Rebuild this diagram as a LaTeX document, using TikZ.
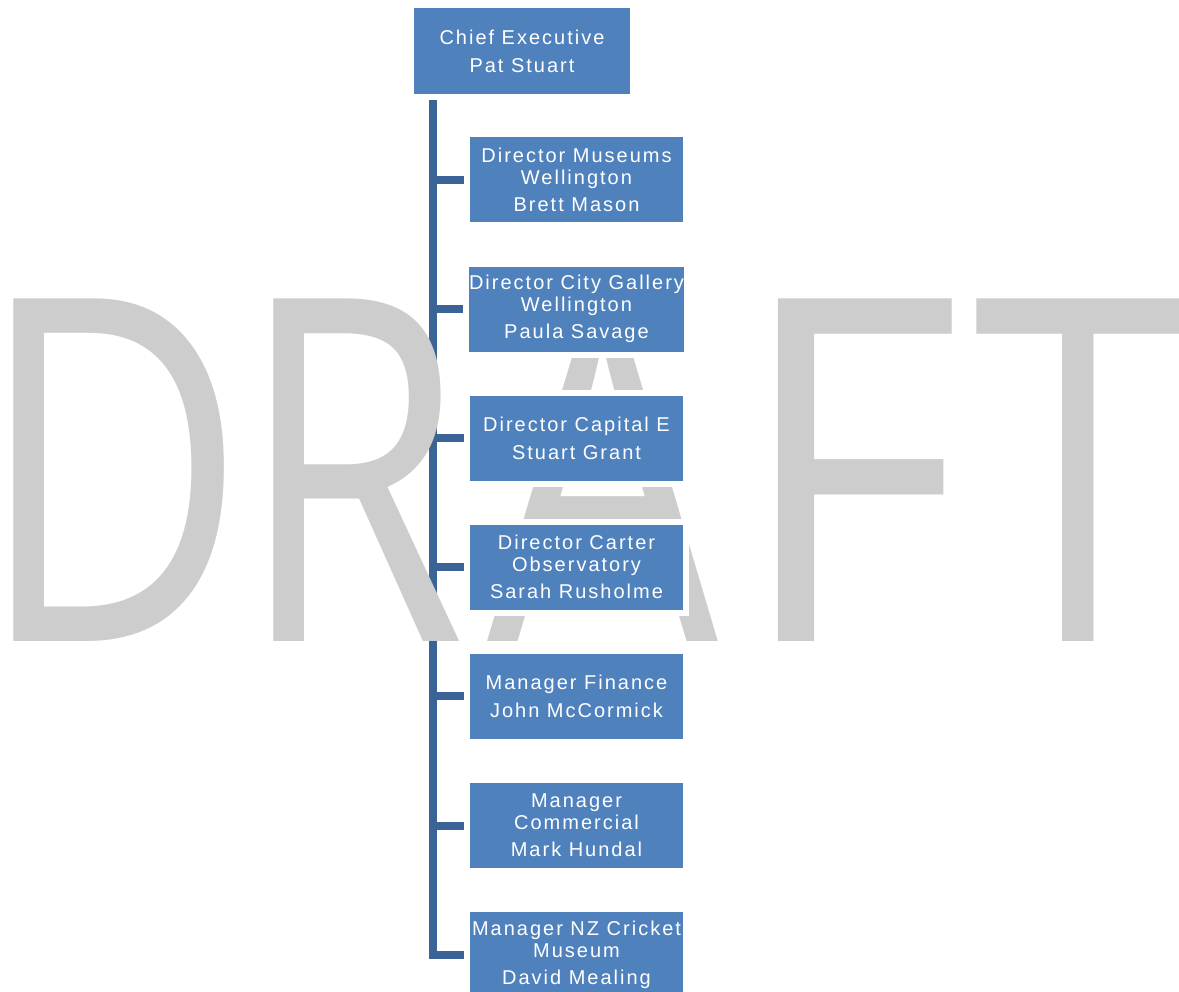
\documentclass[tikz,border=0pt]{standalone}
\usepackage{fontspec}
\usepackage{xcolor}
\usepackage{tikz}
\usetikzlibrary{positioning,backgrounds}
\newfontfamily\boxfont{Liberation Sans}[LetterSpace=10]
\newfontfamily\wmfont{Open Sans}
\definecolor{boxblue}{RGB}{79,129,189}
\definecolor{trunkblue}{RGB}{59,100,150}
\definecolor{wmgray}{RGB}{205,205,205}
\tikzset{
  box/.style ={fill=boxblue, text=white, align=center, inner sep=0pt,
               font=\boxfont\fontsize{20}{22}\selectfont,
               minimum width=213pt, minimum height=85pt,
               preaction={draw=white, line width=12pt}},
  topbox/.style={box, minimum width=216pt, minimum height=86pt},
  wm/.style  ={text=wmgray, inner sep=0pt, anchor=base,
               font=\wmfont\fontsize{480}{480}\selectfont},
  link/.style={draw=trunkblue, line width=8pt},
}
\begin{document}
\begin{tikzpicture}[x=1pt, y=-1pt, node distance=43.7pt]
  \useasboundingbox (0,0) rectangle (1179,992);
  % watermark
  \node[wm, xscale=0.77] (wmD) at (112,641) {D};
  \node[wm, xscale=0.77] (wmR) at (352,641) {R};
  \node[wm, xscale=0.76] (wmA) at (603,641) {A};
  \node[wm, xscale=0.91] (wmF) at (848,641) {F};
  \node[wm, xscale=0.79] (wmT) at (1078,641) {T};
  % boxes
  \node[topbox] (chief) at (522,51) {Chief Executive\\[6pt]Pat Stuart};
  \node[box] (museums) at (576.5,180) {Director Museums\\Wellington\\[5pt]Brett Mason};
  \node[box, below=of museums] (gallery) {Director City Gallery\\Wellington\\[5pt]Paula Savage};
  \node[box, below=of gallery] (capitale) {Director Capital E\\[6pt]Stuart Grant};
  \node[box, below=of capitale] (carter) {Director Carter\\Observatory\\[5pt]Sarah Rusholme};
  \node[box, below=of carter] (finance) {Manager Finance\\[6pt]John McCormick};
  \node[box, below=of finance] (commercial) {Manager\\Commercial\\[5pt]Mark Hundal};
  \node[box, below=of commercial] (cricket) {Manager NZ Cricket\\Museum\\[5pt]David Mealing};
  % connectors
  \begin{scope}[on background layer]
    \coordinate (trunk) at ([xshift=19pt]chief.south west);
    \draw[link] (trunk) |- (cricket.west);
    \foreach \n in {museums,gallery,capitale,carter,finance,commercial}
      \draw[link] (trunk |- \n.west) -- (\n.west);
  \end{scope}
\end{tikzpicture}
\end{document}
